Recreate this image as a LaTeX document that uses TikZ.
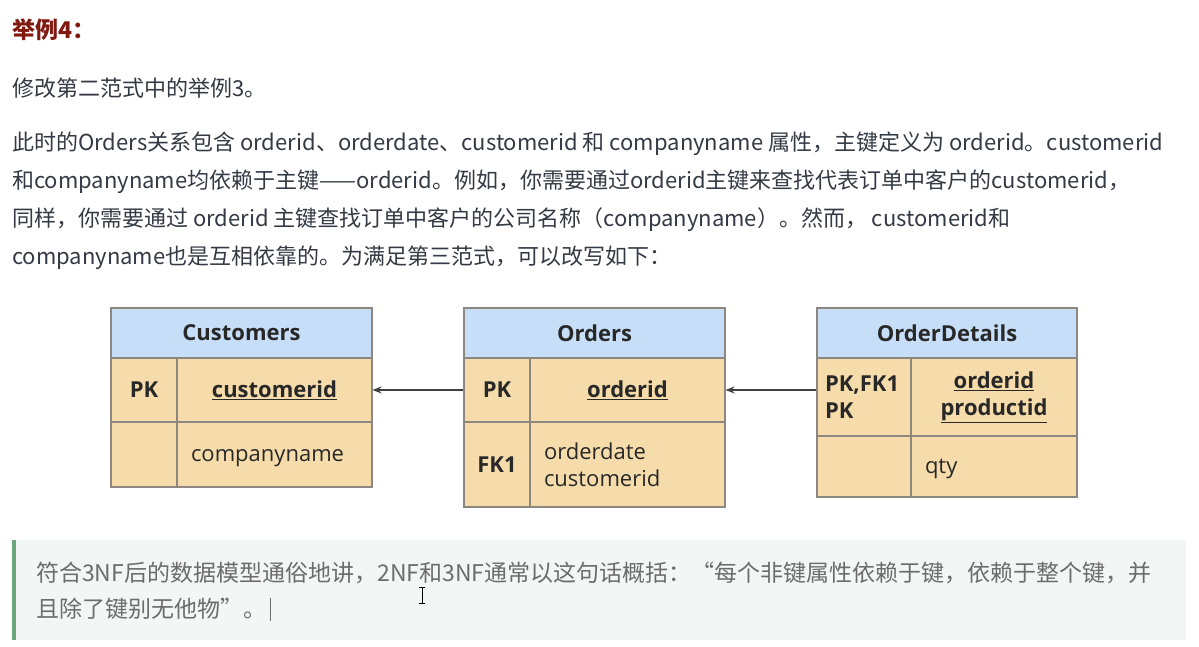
\documentclass[tikz,border=0pt]{standalone}
\usepackage{fontspec}
\usetikzlibrary{arrows.meta}
\setmainfont{Noto Sans CJK SC}
\newfontfamily\tabfont{Open Sans}
\definecolor{titlered}{RGB}{128,26,16}
\definecolor{bodytext}{RGB}{52,58,68}
\definecolor{headblue}{RGB}{198,222,248}
\definecolor{bodytan}{RGB}{246,220,170}
\definecolor{cellgray}{RGB}{140,136,128}
\definecolor{tabtext}{RGB}{40,40,40}
\definecolor{quotebg}{RGB}{242,246,244}
\definecolor{quotebar}{RGB}{108,168,124}
\definecolor{quotetext}{RGB}{108,108,108}

\begin{document}
\begin{tikzpicture}[
    x=1pt, y=-1pt,
    >={Stealth[length=9pt,width=7pt]},
    line/.style={
        anchor=west,
        inner sep=0,
        text=bodytext,
        font=\fontsize{22}{26}\selectfont
    },
    cell/.style={
        draw=cellgray,
        line width=1.1pt,
        fill=bodytan,
        inner sep=0,
        text=tabtext,
        font=\tabfont\fontsize{22}{27}\selectfont
    },
    head/.style={cell, fill=headblue, minimum height=50, font=\tabfont\bfseries\fontsize{22}{27}\selectfont},
    keycell/.style={cell, align=center, font=\tabfont\bfseries\fontsize{22}{27}\selectfont},
    attrcell/.style={cell, align=left, inner xsep=14},
    arr/.style={->, line width=1.3pt, draw=black!75}
]
    \useasboundingbox (0,0) rectangle (1199,647);
    \fill[white] (0,0) rectangle (1199,647);

    \node[line, text=titlered, font=\bfseries\fontsize{23}{26}\selectfont] (title) at (12,30) {举例4：};
    \node[line] (intro) at (12,88) {修改第二范式中的举例3。};

    \node[line] (para1) at (12,144)
        {此时的Orders关系包含 orderid、orderdate、customerid 和 companyname 属性，主键定义为 orderid。customerid};
    \node[line] (para2) at (12,182)
        {和companyname均依赖于主键——orderid。例如，你需要通过orderid主键来查找代表订单中客户的customerid，};
    \node[line] (para3) at (12,220)
        {同样，你需要通过 orderid 主键查找订单中客户的公司名称（companyname）。然而， customerid和};
    \node[line] (para4) at (12,258)
        {companyname也是互相依靠的。为满足第三范式，可以改写如下：};

    \node[head, minimum width=261] (cus-head) at (241.5,333) {Customers};
    \node[keycell, minimum width=66, minimum height=64] (cus-pk) at (144,390) {PK};
    \node[keycell, minimum width=195, minimum height=64] (cus-key) at (274.5,390) {\underline{customerid}};
    \node[cell, minimum width=66, minimum height=65] (cus-blank) at (144,454.5) {};
    \node[attrcell, text width=167, minimum height=65, text height=16, text depth=3] (cus-attr) at (274.5,454.5) {companyname};

    \node[head, minimum width=261] (ord-head) at (594.5,333) {Orders};
    \node[keycell, minimum width=66, minimum height=64] (ord-pk) at (497,390) {PK};
    \node[keycell, minimum width=195, minimum height=64] (ord-key) at (627.5,390) {\underline{orderid}};
    \node[keycell, minimum width=66, minimum height=85] (ord-fk) at (497,464.5) {FK1};
    \node[attrcell, text width=167, minimum height=85] (ord-attr) at (627.5,464.5) {orderdate\\customerid};

    \node[head, minimum width=260] (det-head) at (947,333) {OrderDetails};
    \node[keycell, align=left, inner xsep=8, text width=78, minimum height=78] (det-pk) at (864,397) {PK,FK1\\PK};
    \node[keycell, minimum width=166, minimum height=78] (det-key) at (994,397) {\underline{orderid}\\\underline{productid}};
    \node[cell, minimum width=94, minimum height=61] (det-blank) at (864,466.5) {};
    \node[attrcell, text width=138, minimum height=61, text height=16, text depth=3] (det-attr) at (994,466.5) {qty};

    \draw[arr] (ord-pk.west) -- (cus-key.east);
    \draw[arr] (det-pk.west |- ord-key.east) -- (ord-key.east);

    \fill[quotebg] (12,540) rectangle (1186,640);
    \fill[quotebar] (12,540) rectangle (15.5,640);
    \node[line, text=quotetext, font=\fontsize{23}{26}\selectfont] (quote1) at (36,573)
        {符合3NF后的数据模型通俗地讲，2NF和3NF通常以这句话概括：“每个非键属性依赖于键，依赖于整个键，并};
    \node[line, text=quotetext, font=\fontsize{23}{26}\selectfont] (quote2) at (36,609) {且除了键别无他物”。};
    \draw[quotetext, line width=0.8pt] (quote2.east) ++(4,-11) -- ++(0,23);
    \draw[black, line width=1pt] (419,587) -- (425,587) (422,587) -- (422,603) (419,603) -- (425,603);
\end{tikzpicture}
\end{document}
